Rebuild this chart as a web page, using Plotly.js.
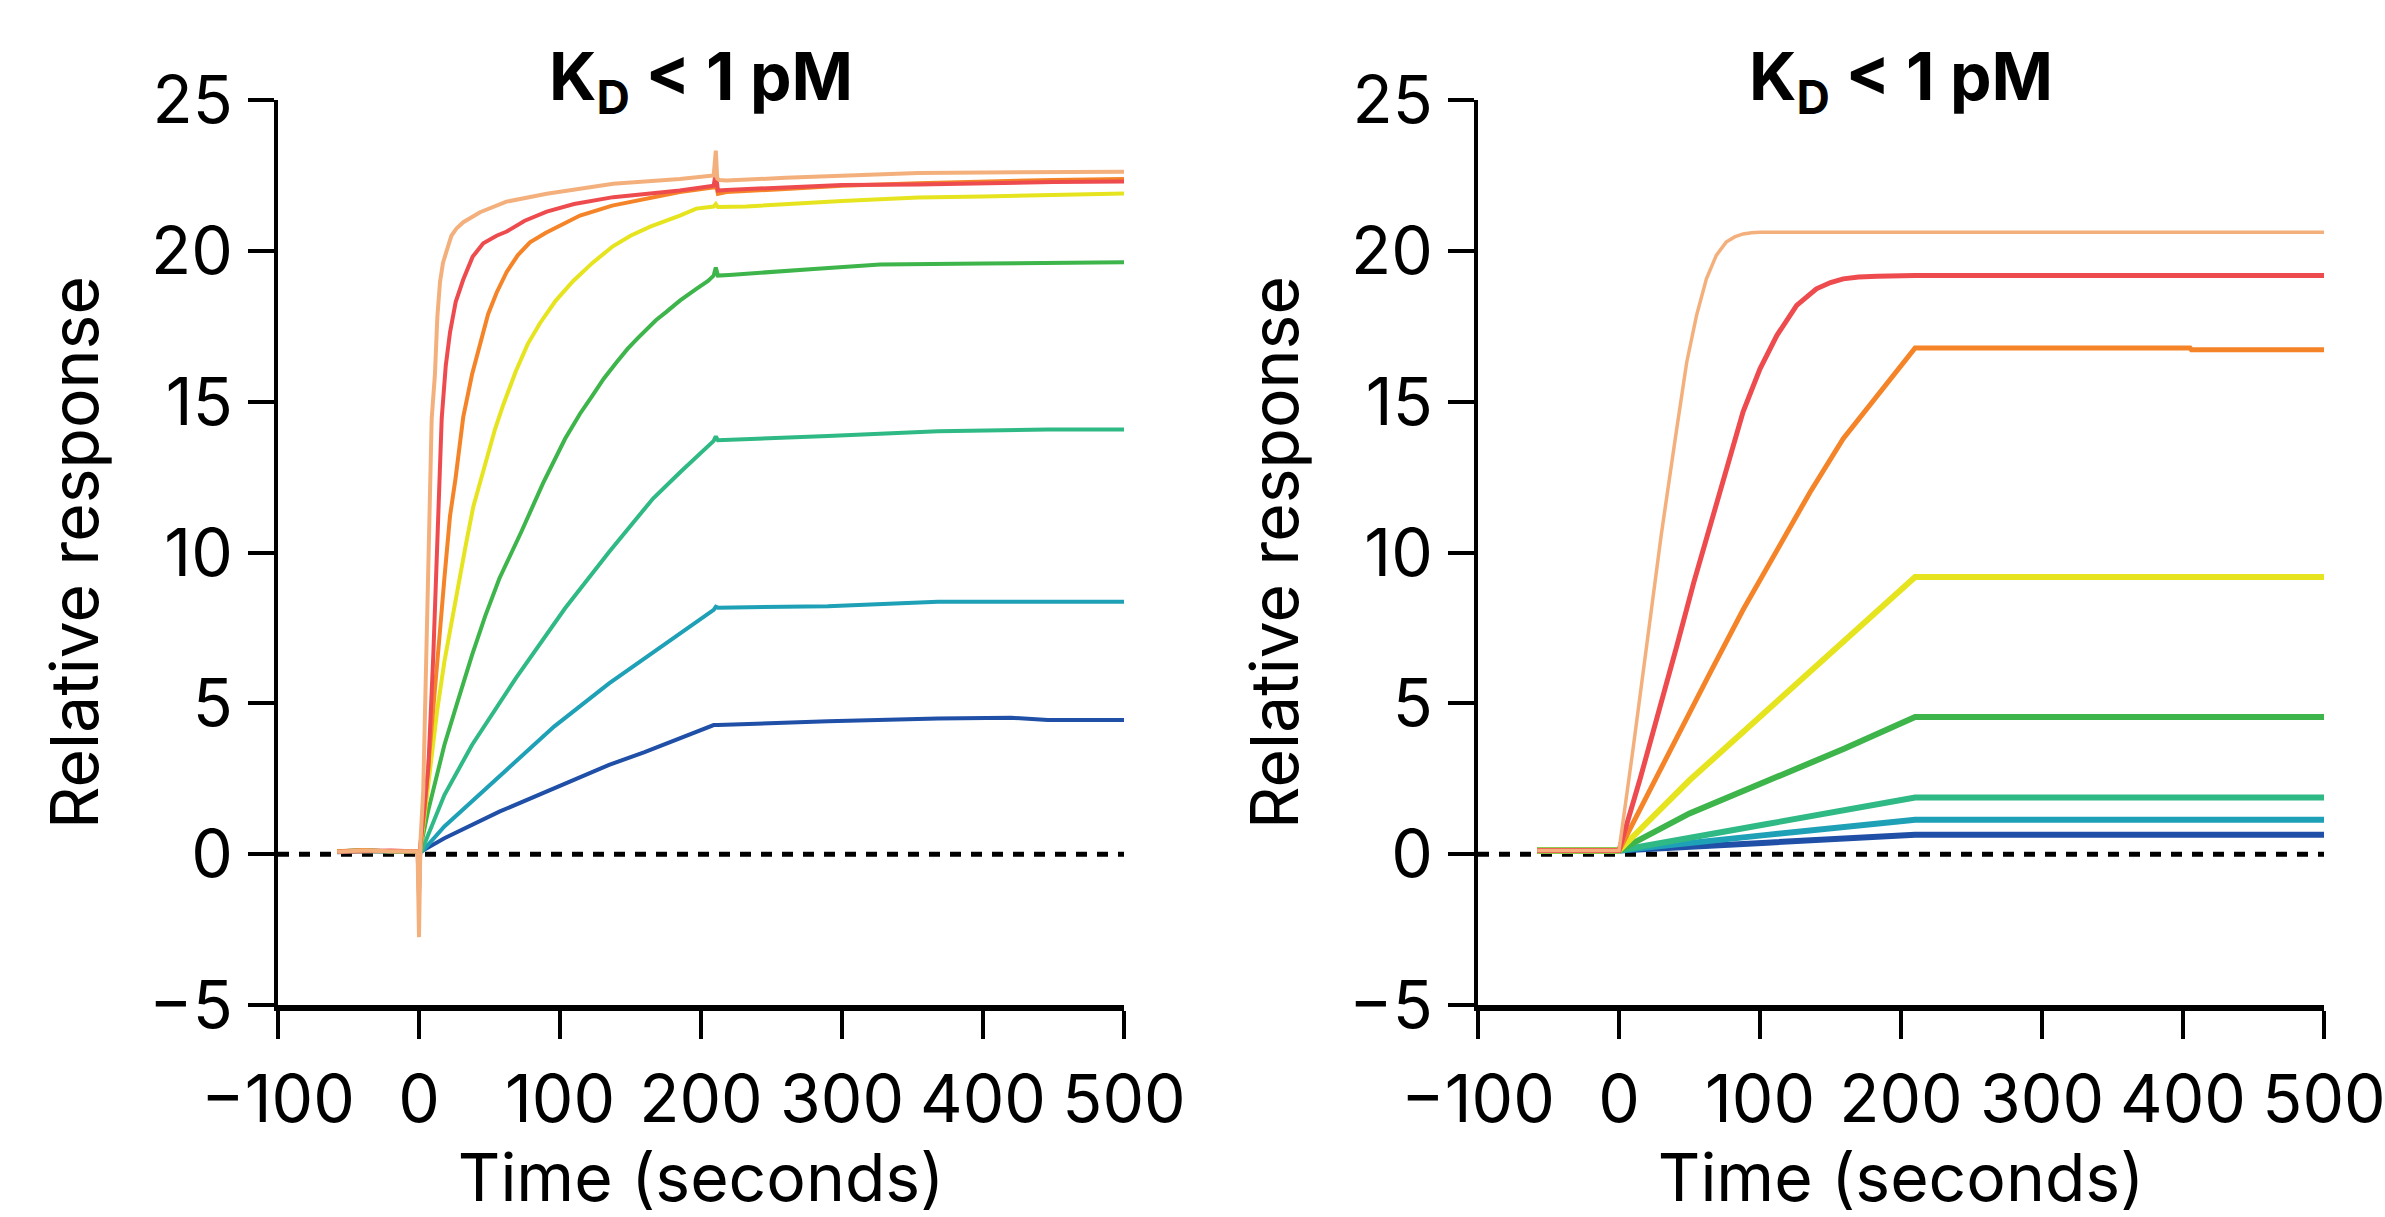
<!DOCTYPE html>
<html>
<head>
<meta charset="utf-8">
<script src="https://cdn.plot.ly/plotly-3.0.1.min.js"></script>
<style>html,body{margin:0;padding:0;background:#fff;}#chart{width:2385px;height:1217px;}</style>
</head>
<body>
<div id="chart"></div>
<script>
// ---------- series names & colours ----------
const seriesNames = ["c1 (highest)", "c2", "c3", "c4", "c5", "c6", "c7", "c8 (lowest)"];
const seriesColors = ["#F4B07C", "#EE4B4F", "#F58428", "#E6E41E", "#3DB54A", "#2FB985", "#1EA0B6", "#1F4FA6"];

// ---------- left panel: measured sensorgrams (time s, relative response) ----------
const leftT1 = [-58,-40,-20,-5,-1,0,1,3,5.4,7.8,9,11.3,13,14.9,17,19.6,23,26.7,31.4,43.3,62,90.6,137.8,185,209,210.5,211.5,213,218,260,300,354,400,450,500];
const leftV1 = [0.08,0.12,0.1,0.1,0.1,-2.75,0.4,2.1,6.66,11.21,14.44,15.9,17.8,18.97,19.6,20.0,20.5,20.75,20.95,21.28,21.63,21.89,22.22,22.38,22.5,23.32,22.4,22.35,22.33,22.42,22.5,22.58,22.6,22.62,22.62];

const leftT2 = [-58,-40,-20,-5,-1,0,1,3,6.6,10.2,12.5,14,16.1,19,22,26,31.4,38,45.6,55,62.2,75,90.6,110,137.8,185,209,210.5,212,218,260,300,354,400,450,500];
const leftV2 = [0.08,0.1,0.12,0.1,0.1,-1.4,0.3,1.2,2.85,6.66,9.7,12.3,14.44,16.2,17.3,18.3,19.05,19.8,20.25,20.5,20.64,21.0,21.3,21.55,21.78,22.0,22.16,22.6,22.0,22.02,22.1,22.18,22.2,22.25,22.28,22.3];

const leftT3 = [-58,-40,-20,-5,-1,0,1,4,10.3,14.9,18,22,25.9,31.4,37.6,43.3,49,55.1,62.2,70,78.7,90,100,114.2,137,161.5,185,209,210.5,212,218,260,300,354,400,450,500];
const leftV3 = [0.1,0.14,0.1,0.12,0.1,-0.4,0.3,1.5,4.72,7.42,9.14,11.21,12.45,14.5,15.9,16.9,17.9,18.62,19.3,19.85,20.28,20.6,20.85,21.17,21.5,21.72,21.95,22.1,22.2,21.89,21.95,22.05,22.16,22.24,22.3,22.35,22.38];

const leftT4 = [-58,-40,-20,-5,-1,0,1,4,8.4,13,18,23,28,33,38.5,44,49.2,54,59.8,68.6,77,85.8,97,109.4,123,137.5,150,164,185,196.7,209,210.5,212,232,300,354,400,450,500];
const leftV4 = [0.1,0.1,0.12,0.1,0.1,-0.6,0.2,1.3,3.07,4.8,6.38,7.7,8.95,10.2,11.52,12.4,13.3,14.1,14.9,16.0,16.9,17.6,18.35,19.0,19.6,20.15,20.5,20.8,21.17,21.4,21.47,21.55,21.45,21.47,21.65,21.77,21.8,21.85,21.9];

const leftT5 = [-58,-40,-20,-5,-1,0,1,6.4,12,18,27,37.6,47,57,72.5,88,103.6,114.2,123,131,140,147.9,155,161.5,168,175,185,196.7,205,209,210.5,212,220,280,327,400,450,500];
const leftV5 = [0.1,0.12,0.1,0.1,0.1,-0.6,0.2,1.42,2.5,3.62,5.0,6.6,7.9,9.14,10.68,12.3,13.77,14.6,15.2,15.76,16.3,16.75,17.1,17.4,17.7,17.96,18.35,18.74,19.0,19.18,19.45,19.18,19.2,19.4,19.55,19.58,19.6,19.62];

const leftT6 = [-58,-40,-20,-5,0,1.8,18,37.6,68.6,103.6,134.8,166,185.4,209,210.5,212,290,368,446,500];
const leftV6 = [0.1,0.12,0.1,0.1,0.05,0.1,1.96,3.62,5.83,8.15,10.02,11.79,12.67,13.7,13.85,13.72,13.86,14.02,14.08,14.08];

const leftT7 = [-58,-40,-20,-5,0,2.5,18,57,95.8,134.8,173.8,197,209,210.5,212,290,368,446,500];
const leftV7 = [0.1,0.12,0.1,0.1,0.05,0.1,0.92,2.57,4.23,5.66,6.93,7.7,8.1,8.2,8.17,8.22,8.37,8.37,8.37];

const leftT8 = [-58,-40,-20,-5,0,2,18,57,95.8,134.8,160,181.5,209,212,290,368,420,446,500];
const leftV8 = [0.06,0.1,0.08,0.1,0.05,0.1,0.53,1.41,2.19,2.96,3.38,3.78,4.28,4.28,4.41,4.5,4.52,4.45,4.45];

// ---------- right panel: model fits ----------
const rightT1 = [-58,0,10,20,30,40,48,55,62,69,76,82,88,94,100,210,500];
const rightV1 = [0.12,0.12,3.5,7.1,10.6,13.8,16.3,17.86,19.07,19.85,20.29,20.46,20.56,20.6,20.62,20.62,20.62];

const rightT2 = [-58,0,15,29,41,53,64.5,76,88,100,112,126,140,150,159,170,183,210,500];
const rightV2 = [0.12,0.12,2.5,4.8,6.9,9.0,10.9,12.8,14.66,16.09,17.2,18.19,18.74,18.95,19.07,19.13,19.16,19.18,19.18];

const rightT3 = [-58,0,20,41,64.5,88,112,135.5,159,183,194.5,210,405,406,500];
const rightV3 = [0.12,0.12,1.95,3.9,6.0,8.1,10.1,12.0,13.77,15.21,15.87,16.78,16.78,16.72,16.72];

const rightT4 = [-58,0,50,105,160,210,500];
const rightV4 = [0.12,0.12,2.45,4.78,7.05,9.19,9.19];

const rightT5 = [-58,0,50,105,160,210,500];
const rightV5 = [0.12,0.12,1.35,2.4,3.5,4.55,4.55];

const rightT6 = [-58,0,105,210,500];
const rightV6 = [0.12,0.12,1.0,1.88,1.88];

const rightT7 = [-58,0,105,210,500];
const rightV7 = [0.12,0.12,0.64,1.14,1.14];

const rightT8 = [-58,0,105,210,500];
const rightV8 = [0.12,0.12,0.38,0.64,0.64];

// ---------- axes ----------
const xTickVals = [-100, 0, 100, 200, 300, 400, 500];
const yTickVals = [-5, 0, 5, 10, 15, 20, 25];
const panelTitle = "<b>K<sub>D</sub> &lt; 1 pM</b>";
const xTitle = "Time (seconds)";
const yTitle = "Relative response";

const leftT = [leftT1,leftT2,leftT3,leftT4,leftT5,leftT6,leftT7,leftT8];
const leftV = [leftV1,leftV2,leftV3,leftV4,leftV5,leftV6,leftV7,leftV8];
const rightT = [rightT1,rightT2,rightT3,rightT4,rightT5,rightT6,rightT7,rightT8];
const rightV = [rightV1,rightV2,rightV3,rightV4,rightV5,rightV6,rightV7,rightV8];

const FONT = "Inter, 'Noto Sans', sans-serif";
const traces = [];
// lowest concentration drawn first so higher ones sit on top as in reference
for (let i = 7; i >= 0; i--) {
  traces.push({x: leftT[i], y: leftV[i], type: "scatter", mode: "lines", name: seriesNames[i],
    xaxis: "x", yaxis: "y", showlegend: false, line: {color: seriesColors[i], width: 4}});
}
const rightWidths = [3.5, 5, 5, 6, 6, 6, 6, 6];
for (let i = 7; i >= 0; i--) {
  traces.push({x: rightT[i], y: rightV[i], type: "scatter", mode: "lines", name: seriesNames[i],
    xaxis: "x2", yaxis: "y2", showlegend: false, line: {color: seriesColors[i], width: rightWidths[i]}});
}

const W = 2385, H = 1217;
const yDom = [1 - 1005 / H, 1 - 100 / H];
function xAxis(dom, anchor) {
  return {domain: dom, anchor: anchor, range: [-100, 500], tickvals: xTickVals, ticks: "outside",
    ticklen: 28, tickwidth: 4, tickcolor: "#000", showline: true, linecolor: "#000", linewidth: 6,
    showgrid: false, zeroline: false, fixedrange: true, ticklabeloverflow: "allow",
    tickfont: {family: FONT, size: 66, color: "#000"}, ticklabelstandoff: 4,
    title: {text: xTitle, font: {family: FONT, size: 66, color: "#000"}, standoff: 42}};
}
function yAxis(anchor) {
  return {domain: yDom, anchor: anchor, range: [-5, 25], tickvals: yTickVals, ticks: "outside",
    ticklen: 26, tickwidth: 4, tickcolor: "#000", showline: true, linecolor: "#000", linewidth: 4,
    showgrid: false, zeroline: false, fixedrange: true, ticklabeloverflow: "allow",
    tickfont: {family: FONT, size: 66, color: "#000"}, ticklabelstandoff: 2,
    title: {text: yTitle, font: {family: FONT, size: 66, color: "#000"}, standoff: 30}};
}

const layout = {
  width: W, height: H, margin: {l: 0, r: 0, t: 0, b: 0},
  paper_bgcolor: "#fff", plot_bgcolor: "#fff", showlegend: false,
  xaxis: xAxis([278 / W, 1124 / W], "y"),
  yaxis: yAxis("x"),
  xaxis2: xAxis([1478 / W, 2324 / W], "y2"),
  yaxis2: yAxis("x2"),
  shapes: [
    {type: "line", xref: "x", yref: "y", x0: -100, x1: 500, y0: 0, y1: 0, layer: "below",
      line: {color: "#000", width: 5, dash: "11px,10px"}},
    {type: "line", xref: "x2", yref: "y2", x0: -100, x1: 500, y0: 0, y1: 0, layer: "below",
      line: {color: "#000", width: 5, dash: "11px,10px"}}
  ],
  annotations: [
    {text: panelTitle, xref: "paper", yref: "paper", x: 701 / W, y: 1 - 80 / H, xanchor: "center", yanchor: "middle",
      showarrow: false, font: {family: FONT, size: 66, color: "#000"}},
    {text: panelTitle, xref: "paper", yref: "paper", x: 1901 / W, y: 1 - 80 / H, xanchor: "center", yanchor: "middle",
      showarrow: false, font: {family: FONT, size: 66, color: "#000"}}
  ]
};

Plotly.newPlot("chart", traces, layout, {displayModeBar: false, staticPlot: true});
</script>
</body>
</html>
